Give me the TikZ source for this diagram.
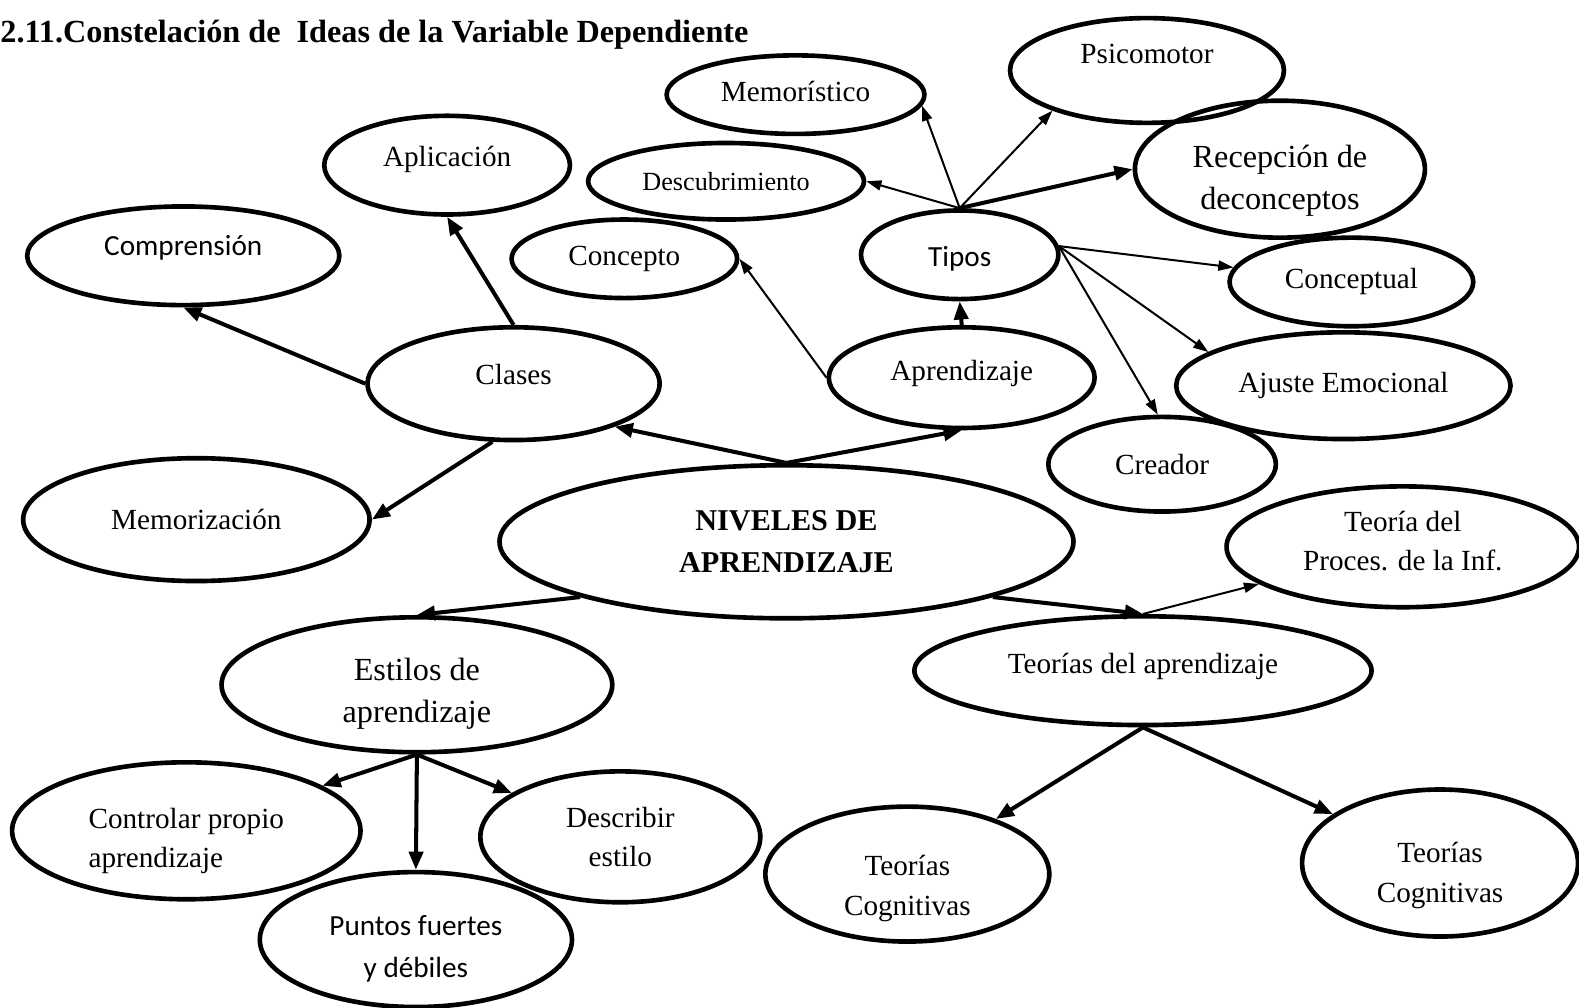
\documentclass[tikz,border=0pt]{standalone}
\usepackage{fontspec}
\setmainfont{Liberation Serif}
\newfontfamily\carlito{Carlito}
\usetikzlibrary{shapes.geometric,arrows.meta}

\tikzset{
  idea/.style={ellipse, draw, line width=2.3pt, inner sep=0pt, align=center,
    font=\fontsize{14.5}{19.5}\selectfont},
  sans/.style={font=\carlito\fontsize{14.5}{21}\selectfont},
  grande/.style={font=\fontsize{16}{20.5}\selectfont},
  gruesa/.style={-{Triangle[length=9pt,width=7pt]}, line width=2pt},
  fina/.style={-{Triangle[length=7.5pt,width=5pt]}, line width=1pt},
}

\begin{document}
\begin{tikzpicture}[x=0.5pt,y=-0.5pt]
\useasboundingbox (0,0) rectangle (1568,1000);

\node[anchor=base west, inner sep=0pt, font=\bfseries\fontsize{16}{18}\selectfont] (titulo) at (0,42)
  {2.11.Constelación de~ Ideas de la Variable Dependiente};

% centro
\node[idea, minimum width=285pt, minimum height=76pt, font=\bfseries\fontsize{15}{21}\selectfont] (niveles) at (781,538) {NIVELES DE\\APRENDIZAJE};

% rama izquierda
\node[idea, minimum width=145pt, minimum height=56pt, text depth=9pt] (clases) at (510,381) {Clases};
\node[idea, minimum width=122pt, minimum height=49pt, text depth=9pt] (aplicacion) at (444,164) {Aplicación};
\node[idea, sans, minimum width=155pt, minimum height=49pt, text depth=10pt] (comprension) at (182,254) {Comprensión};
\node[idea, minimum width=172pt, minimum height=61pt] (memorizacion) at (195,516) {Memorización};

% aprendizaje y tipos
\node[idea, minimum width=132pt, minimum height=50pt, text depth=7pt] (aprendizaje) at (955,375) {Aprendizaje};
\node[idea, minimum width=112pt, minimum height=39pt] (concepto) at (620,257) {Concepto};
\node[idea, sans, minimum width=98pt, minimum height=44pt, text height=14pt] (tipos) at (953,253) {Tipos};
\node[idea, minimum width=128pt, minimum height=39pt, text depth=3pt] (memoristico) at (790,94) {Memorístico};
\node[idea, minimum width=136pt, minimum height=52pt, text depth=17pt] (psicomotor) at (1139,70) {Psicomotor};
\node[idea, minimum width=137pt, minimum height=38pt, font=\fontsize{13}{16}\selectfont] (descubrimiento) at (721,180) {Descubrimiento};
\node[idea, grande, minimum width=144pt, minimum height=68pt, text height=43pt] (recepcion) at (1271,168) {Recepción de\\deconceptos};
\node[idea, minimum width=121pt, minimum height=44pt] (conceptual) at (1342,280) {Conceptual};
\node[idea, minimum width=166pt, minimum height=53pt] (ajuste) at (1334,383) {Ajuste Emocional};
\node[idea, minimum width=113pt, minimum height=47pt] (creador) at (1154,461) {Creador};

% estilos
\node[idea, grande, minimum width=194pt, minimum height=67pt, text height=40.5pt] (estilos) at (414,680) {Estilos de\\aprendizaje};
\node[idea, align=left, minimum width=173pt, minimum height=68pt, text height=40pt] (controlar) at (185,825) {Controlar propio\\aprendizaje};
\node[idea, sans, minimum width=155pt, minimum height=67pt, text height=40pt] (puntos) at (413,933) {Puntos fuertes\\y débiles};
\node[idea, minimum width=139pt, minimum height=65pt] (describir) at (616,831) {Describir\\estilo};

% teorias
\node[idea, minimum width=227pt, minimum height=54pt, text depth=7pt] (teorias) at (1135,666) {Teorías del aprendizaje};
\node[idea, minimum width=175pt, minimum height=60pt, text depth=6pt] (proces) at (1393,543) {Teoría del\\Proces. de la Inf.};
\node[idea, minimum width=141pt, minimum height=67pt, text height=44pt] (cogizq) at (901,868) {Teorías\\Cognitivas};
\node[idea, minimum width=137pt, minimum height=73pt, text height=42pt] (cogder) at (1430,857) {Teorías\\Cognitivas};

% flechas
\draw[gruesa] (niveles.north) -- (clases.-23);
\draw[gruesa] (niveles.north) -- (aprendizaje.south);
\draw[gruesa] (niveles.195) -- (estilos.north);
\draw[gruesa] (niveles.-15) -- (teorias.north);

\draw[gruesa] (clases.west) -- (comprension.south);
\draw[gruesa] (clases.north) -- (aplicacion.south);
\draw[gruesa] (clases.-110) -- (memorizacion.east);

\draw[fina] (aprendizaje.west) -- (concepto.east);
\draw[gruesa] (aprendizaje.north) -- (tipos.south);

\draw[fina] (tipos.north) -- (memoristico.-5);
\draw[fina] (tipos.north) -- (psicomotor.203);
\draw[fina] (tipos.north) -- (descubrimiento.east);
\draw[gruesa] (tipos.north) -- (recepcion.west);
\draw[fina] (tipos.5) -- (conceptual);
\draw[fina] (tipos.5) -- (ajuste.166);
\draw[fina] (tipos.5) -- (creador.95);

\draw[gruesa] (estilos.south) -- (controlar);
\draw[gruesa] (estilos.south) -- (puntos.north);
\draw[gruesa] (estilos.south) -- (describir);

\draw[fina] (teorias.north) -- (proces);
\draw[gruesa] (teorias.south) -- (cogizq);
\draw[gruesa] (teorias.south) -- (cogder);
\end{tikzpicture}
\end{document}
